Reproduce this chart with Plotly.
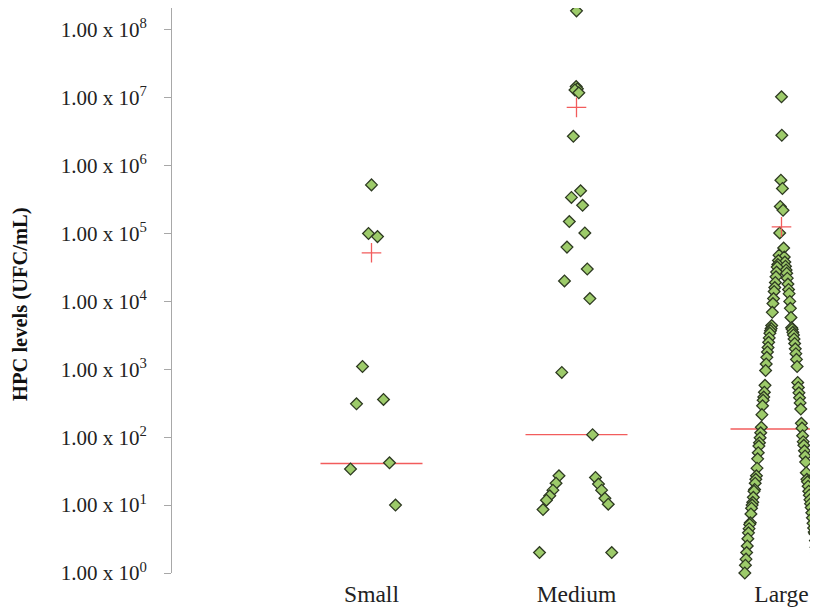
import numpy as np
import plotly.graph_objects as go

# ---------------- data ----------------
categories = ["Small", "Medium", "Large"]

small_values = [5.2e5, 1.0e5, 9.0e4, 1100, 360, 310, 42, 34, 10]

medium_values = [1.9e8, 1.46e7, 1.35e7, 1.3e7, 1.18e7, 2.7e6, 4.25e5, 3.4e5,
                 2.6e5, 1.5e5, 1.02e5, 6.3e4, 3.0e4, 2.0e4, 1.1e4, 900, 109,
                 27, 25.5, 21, 20.4, 16.6, 16.6, 13.7, 12.6, 11.8, 10.3, 8.6,
                 2, 2]

large_values = [1.03e7, 2.8e6, 6.1e5, 4.6e5, 2.5e5, 2.2e5, 1.02e5, 6.1e4,
                4.8e4, 4.5e4, 4.0e4, 3.8e4, 3.5e4, 3.3e4, 3.2e4, 2.9e4, 2.7e4,
                2.6e4, 2.3e4, 2.2e4, 1.9e4, 1.8e4, 1.6e4, 1.5e4, 1.4e4, 1.3e4,
                1.1e4, 1.0e4, 9.3e3, 7.9e3, 6.9e3, 5.8e3, 4.4e3, 4.1e3, 4.0e3,
                3.9e3, 3.7e3, 3.5e3, 3.4e3, 3.2e3, 2.9e3, 2.8e3, 2.5e3, 2.4e3,
                2.1e3, 2.0e3, 1.8e3, 1.7e3, 1.5e3, 1.4e3, 1.2e3, 1.1e3, 960,
                640, 580, 540, 460, 450, 390, 380, 350, 320, 290, 260, 215,
                160, 140, 136, 116, 105, 98, 86, 83, 76, 74, 63, 59, 53, 48,
                43, 35, 30, 27, 24, 24, 22, 21, 19, 17, 16, 16, 14, 13, 12, 11,
                10.5, 10, 9.2, 9.0, 7.7, 7.4, 6.5, 5.5, 5.4, 5.2, 4.6, 4.5,
                4.0, 3.9, 3.8, 3.2, 3.0, 2.5, 2.4, 2.0, 2.0, 1.6, 1.5, 1.3,
                1.2, 1.0, 1.0]

median_values = [41, 109, 132]
mean_values = [5.2e4, 7.2e6, 1.25e5]

tick_values = [1, 10, 100, 1e3, 1e4, 1e5, 1e6, 1e7, 1e8]
tick_labels = ["1.00 x 10<sup>0</sup>", "1.00 x 10<sup>1</sup>",
               "1.00 x 10<sup>2</sup>", "1.00 x 10<sup>3</sup>",
               "1.00 x 10<sup>4</sup>", "1.00 x 10<sup>5</sup>",
               "1.00 x 10<sup>6</sup>", "1.00 x 10<sup>7</sup>",
               "1.00 x 10<sup>8</sup>"]

# ---------------- layout / style parameters ----------------
# (the page body adds an 8px margin, so the figure is 8px smaller and offset)
W, H = 810, 600
M_L, M_R, M_T, M_B = 164, 0, 0, 35
UNIT_PX = 205.0            # pixels between category centres
FIRST_CENTER_PX = 363.5    # figure-pixel x of first category centre
PX_PER_DECADE = 67.9
spread_px = [24, 37, 37]   # max horizontal spread of each swarm
spread_pow = [1.0, 1.4, 1.0]
start_sign = [1, -1, 1]
median_half_px = 51
FILL = "#9DCB6A"
EDGE = "#2E3A22"
RED = "#F25C5C"
SERIF = "Liberation Serif, Times New Roman, serif"

groups = [small_values, medium_values, large_values]


def swarm_offsets(vals, width_px, power, sign0):
    vals = np.asarray(vals, dtype=float)
    order = np.argsort(vals, kind="stable")
    n = len(vals)
    offs = np.zeros(n)
    for r, idx in enumerate(order):
        mag = width_px * (1 - r / (n - 1)) ** power
        offs[idx] = sign0 * (-1) ** r * mag
    return offs / UNIT_PX


fig = go.Figure()

# median lines (below the points)
for i, med in enumerate(median_values):
    c = i + 1
    h = median_half_px / UNIT_PX
    fig.add_trace(go.Scatter(x=[c - h, c + h], y=[med, med], mode="lines",
                             line=dict(color=RED, width=1.3),
                             hoverinfo="skip", showlegend=False,
                             cliponaxis=False))

# points
for i, vals in enumerate(groups):
    xs = (i + 1) + swarm_offsets(vals, spread_px[i], spread_pow[i], start_sign[i])
    fig.add_trace(go.Scatter(x=xs, y=vals, mode="markers",
                             marker=dict(symbol="diamond", size=9, color=FILL,
                                         line=dict(color=EDGE, width=1.3)),
                             name=categories[i], showlegend=False,
                             cliponaxis=False))

# means (crosses on top)
fig.add_trace(go.Scatter(x=[1, 2, 3], y=mean_values, mode="markers",
                         marker=dict(symbol="cross-thin", size=14,
                                     line=dict(color=RED, width=1.3)),
                         showlegend=False, cliponaxis=False))

x_left = 1 - (FIRST_CENTER_PX - M_L) / UNIT_PX
x_right = 1 + (W - M_R - FIRST_CENTER_PX) / UNIT_PX

plot_h = H - M_T - M_B
y_top = plot_h / PX_PER_DECADE

fig.update_layout(
    width=W, height=H,
    margin=dict(l=M_L, r=M_R, t=M_T, b=M_B, autoexpand=False),
    paper_bgcolor="white", plot_bgcolor="white",
    font=dict(family=SERIF, color="#222"),
    xaxis=dict(range=[x_left, x_right], tickvals=[1, 2, 3], ticktext=categories,
               showgrid=False, zeroline=False, showline=False, ticks="",
               ticklabelstandoff=4, automargin=False,
               tickfont=dict(size=23.5, family=SERIF, color="#222")),
    yaxis=dict(type="log", range=[0, y_top], tickvals=tick_values,
               ticktext=tick_labels, showgrid=False, zeroline=False,
               showline=True, linecolor="#A8A8A8", linewidth=1,
               ticks="outside", ticklen=7, tickcolor="#A8A8A8",
               ticklabelstandoff=13, automargin=False,
               tickfont=dict(size=21, family=SERIF, color="#222")),
    annotations=[dict(text="<b>HPC levels (UFC/mL)</b>", textangle=-90,
                      xref="paper", yref="paper",
                      x=(12 - M_L) / (W - M_L - M_R),
                      y=(H - M_B - 296) / plot_h,
                      xanchor="center", yanchor="middle", showarrow=False,
                      font=dict(size=20.5, family=SERIF, color="#111"))],
)

fig.write_html("out.html")
